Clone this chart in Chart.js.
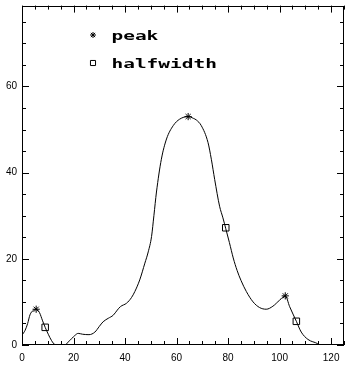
<!DOCTYPE html>
<html>
<head>
<meta charset="utf-8">
<script src="https://cdn.jsdelivr.net/npm/chart.js@4/dist/chart.umd.min.js"></script>
<style>
  body { margin: 0; background: #fff; }
  canvas { display: block; }
</style>
</head>
<body>
<canvas id="peakChart" width="350" height="365"></canvas>
<script>
// curve
const curveX = [0, 1.2, 2.2, 3.1, 4.3, 5.5, 6.8, 8.0, 9.0, 10.2, 11.5, 12.8, 14.5, 16.5, 17.8, 19.3, 20.5, 21.8, 23.5, 26.0,
  28.3, 30.0, 31.5, 33.5, 35.4, 37.0, 38.2, 40.6, 42.5, 43.8, 45.7, 47.7, 49.0, 50.3, 51.2, 52.2, 54.1, 56.1, 58.7, 61.2,
  64.5, 66.5, 67.7, 69.6, 72.2, 73.5, 74.8, 76.7, 78.0, 79.1, 80.5, 82.0, 83.5, 85.0, 87.1, 89.7, 92.2, 94.8, 97.4, 100.0, 102.2,
  103.9, 106.5, 108.4, 111.0, 114.8, 115.5];
const curveY = [2.3, 3.4, 5.0, 7.0, 8.0, 8.3, 7.5, 5.6, 4.1, 2.5, 1.0, 0.1, 0, 0, 0.6, 1.5, 2.2, 2.7, 2.5, 2.4,
  3.0, 4.3, 5.4, 6.2, 6.9, 8.1, 8.9, 9.7, 11.0, 12.4, 15.1, 19.0, 21.6, 25.2, 30.0, 35.5, 43.1, 47.8, 50.9, 52.4,
  53.0, 52.6, 52.2, 50.9, 47.0, 43.1, 38.4, 32.2, 29.5, 27.0, 23.8, 20.2, 17.3, 15.0, 12.4, 10.0, 8.7, 8.3, 9.0, 10.4, 11.4,
  8.9, 5.5, 3.0, 1.3, 0.3, 0];

const peakX = [5.5, 64.5, 102.2];
const peakY = [8.3, 53.0, 11.4];
const halfX = [9.0, 79.1, 106.5];
const halfY = [4.1, 27.2, 5.5];

const xTickValues = [0, 20, 40, 60, 80, 100, 120];
const yTickValues = [0, 20, 40, 60];
const xMax = 125;
const yMax = 78.75;

const toPoints = (xs, ys) => xs.map((x, i) => ({ x: x, y: ys[i] }));

// inward ticks on all four sides plus the frame, IDL style
const frameTicks = {
    id: 'frameTicks',
    afterDraw(chart) {
        const { ctx, chartArea: a, scales } = chart;
        const xs = scales.x, ys = scales.y;
        ctx.save();
        ctx.strokeStyle = '#000';
        ctx.lineWidth = 1;
        ctx.strokeRect(Math.round(a.left) + 0.5, Math.round(a.top) + 0.5,
            Math.round(a.right - a.left) - 1, Math.round(a.bottom - a.top) - 1);
        ctx.beginPath();
        for (let v = 0; v <= xMax; v += 5) {
            const len = v % 20 === 0 ? 7 : 4;
            const px = Math.round(xs.getPixelForValue(v)) + 0.5;
            ctx.moveTo(px, a.bottom); ctx.lineTo(px, a.bottom - len);
            ctx.moveTo(px, a.top); ctx.lineTo(px, a.top + len);
        }
        for (let v = 0; v <= yMax; v += 5) {
            const len = v % 20 === 0 ? 7 : 4;
            const py = Math.round(ys.getPixelForValue(v)) + 0.5;
            ctx.moveTo(a.left, py); ctx.lineTo(a.left + len, py);
            ctx.moveTo(a.right, py); ctx.lineTo(a.right - len, py);
        }
        ctx.stroke();

        // legend inside the plot
        const items = [
            { ds: chart.data.datasets[1], y: 35 },
            { ds: chart.data.datasets[2], y: 63 }
        ];
        items.forEach(it => {
            const mx = a.left + 71;
            const my = it.y;
            ctx.lineWidth = 1;
            ctx.strokeStyle = '#000';
            ctx.fillStyle = 'rgba(0,0,0,0)';
            Chart.helpers.drawPoint(ctx, {
                pointStyle: it.ds.pointStyle,
                radius: it.ds.pointStyle === 'rect' ? 3.6 : 3,
                borderWidth: 1
            }, mx, my);
            ctx.save();
            ctx.translate(a.left + 89.5, my + 4.5);
            ctx.scale(1.62, 1);
            ctx.fillStyle = '#000';
            ctx.font = 'bold 12px "DejaVu Sans Mono"';
            ctx.textBaseline = 'alphabetic';
            ctx.fillText(it.ds.label, 0, 0);
            ctx.restore();
        });
        ctx.restore();
    }
};

new Chart(document.getElementById('peakChart'), {
    type: 'line',
    data: {
        datasets: [
            {
                label: 'curve',
                data: toPoints(curveX, curveY),
                borderColor: '#000',
                borderWidth: 1,
                pointRadius: 0,
                cubicInterpolationMode: 'monotone',
                fill: false
            },
            {
                label: 'peak',
                data: toPoints(peakX, peakY),
                showLine: false,
                pointStyle: 'star',
                pointRadius: 3.6,
                borderColor: '#000',
                borderWidth: 1
            },
            {
                label: 'halfwidth',
                data: toPoints(halfX, halfY),
                showLine: false,
                pointStyle: 'rect',
                pointRadius: 4.6,
                borderColor: '#000',
                backgroundColor: 'rgba(0,0,0,0)',
                borderWidth: 1
            }
        ]
    },
    options: {
        responsive: false,
        animation: false,
        layout: { padding: { left: 0, right: 6, top: 5, bottom: 0 } },
        plugins: {
            legend: { display: false },
            tooltip: { enabled: false }
        },
        scales: {
            x: {
                type: 'linear',
                min: 0,
                max: xMax,
                grid: { display: false, drawTicks: false },
                border: { display: false },
                afterBuildTicks: s => { s.ticks = xTickValues.map(v => ({ value: v })); },
                afterFit: s => { s.height = 20; s.paddingLeft = 0; s.paddingRight = 0; },
                ticks: {
                    color: '#000',
                    padding: 7,
                    maxRotation: 0,
                    font: { family: '"Liberation Sans", sans-serif', size: 10 }
                }
            },
            y: {
                type: 'linear',
                min: 0,
                max: yMax,
                grid: { display: false, drawTicks: false },
                border: { display: false },
                afterBuildTicks: s => { s.ticks = yTickValues.map(v => ({ value: v })); },
                afterFit: s => { s.width = 22; s.paddingTop = 0; s.paddingBottom = 0; },
                ticks: {
                    color: '#000',
                    padding: 5,
                    font: { family: '"Liberation Sans", sans-serif', size: 10 }
                }
            }
        }
    },
    plugins: [frameTicks]
});
</script>
</body>
</html>
